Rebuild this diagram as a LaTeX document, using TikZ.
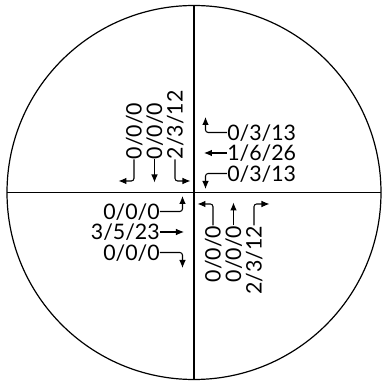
\documentclass[tikz,border=0pt]{standalone}
\usepackage{fontspec}
\setsansfont{Lato}
\usetikzlibrary{arrows.meta}
\begin{document}
\begin{tikzpicture}[x=0.75pt,y=0.75pt,
  lab/.style={font=\sffamily\fontsize{16}{16}\selectfont, inner sep=0pt, text height=11.5pt, text depth=0pt},
  arr/.style={line width=0.8pt, -{Latex[length=6pt,width=5pt]}, rounded corners=2pt},
  frame/.style={line width=0.9pt}]
\useasboundingbox (-194,-188.5) rectangle (192,192.5);
% circle and cross
\coordinate (c) at (0,0);
\draw[frame] (c) circle[radius=187];
\coordinate (W) at (-187,0);
\coordinate (E) at (187,0);
\coordinate (N) at (0,187);
\coordinate (S) at (0,-187);
\draw[frame] (W) -- (E);
\draw[frame] (N) -- (S);
% upper right
\node[lab,anchor=west] (ur1) at (33,60) {0/3/13};
\node[lab,anchor=west] (ur2) at (33,39.5) {1/6/26};
\node[lab,anchor=west] (ur3) at (33,19) {0/3/13};
\coordinate (ur1t) at (11.5,75.5);
\coordinate (ur2t) at (10,39.5);
\coordinate (ur3t) at (11.5,3.5);
\draw[arr] (ur1.west) -| (ur1t);
\draw[arr] (ur2.west) -- (ur2t);
\draw[arr] (ur3.west) -| (ur3t);
% lower left
\node[lab,anchor=east] (ll1) at (-34,-19) {0/0/0};
\node[lab,anchor=east] (ll2) at (-34,-39.5) {3/5/23};
\node[lab,anchor=east] (ll3) at (-34,-60) {0/0/0};
\coordinate (ll1t) at (-11.5,-3.5);
\coordinate (ll2t) at (-10,-39.5);
\coordinate (ll3t) at (-11.5,-75.5);
\draw[arr] (ll1.east) -| (ll1t);
\draw[arr] (ll2.east) -- (ll2t);
\draw[arr] (ll3.east) -| (ll3t);
% upper left
\node[lab,anchor=west,rotate=90] (ul1) at (-60,33) {0/0/0};
\node[lab,anchor=west,rotate=90] (ul2) at (-39.5,33) {0/0/0};
\node[lab,anchor=west,rotate=90] (ul3) at (-19,33) {2/3/12};
\coordinate (ul1t) at (-75.5,11.5);
\coordinate (ul2t) at (-39.5,10);
\coordinate (ul3t) at (-3.5,11.5);
\draw[arr] (ul1.west) |- (ul1t);
\draw[arr] (ul2.west) -- (ul2t);
\draw[arr] (ul3.west) |- (ul3t);
% lower right
\node[lab,anchor=east,rotate=90] (lr1) at (19,-33) {0/0/0};
\node[lab,anchor=east,rotate=90] (lr2) at (39.5,-33) {0/0/0};
\node[lab,anchor=east,rotate=90] (lr3) at (60,-33) {2/3/12};
\coordinate (lr1t) at (3.5,-11.5);
\coordinate (lr2t) at (39.5,-10);
\coordinate (lr3t) at (75.5,-11.5);
\draw[arr] (lr1.east) |- (lr1t);
\draw[arr] (lr2.east) -- (lr2t);
\draw[arr] (lr3.east) |- (lr3t);
\end{tikzpicture}
\end{document}
